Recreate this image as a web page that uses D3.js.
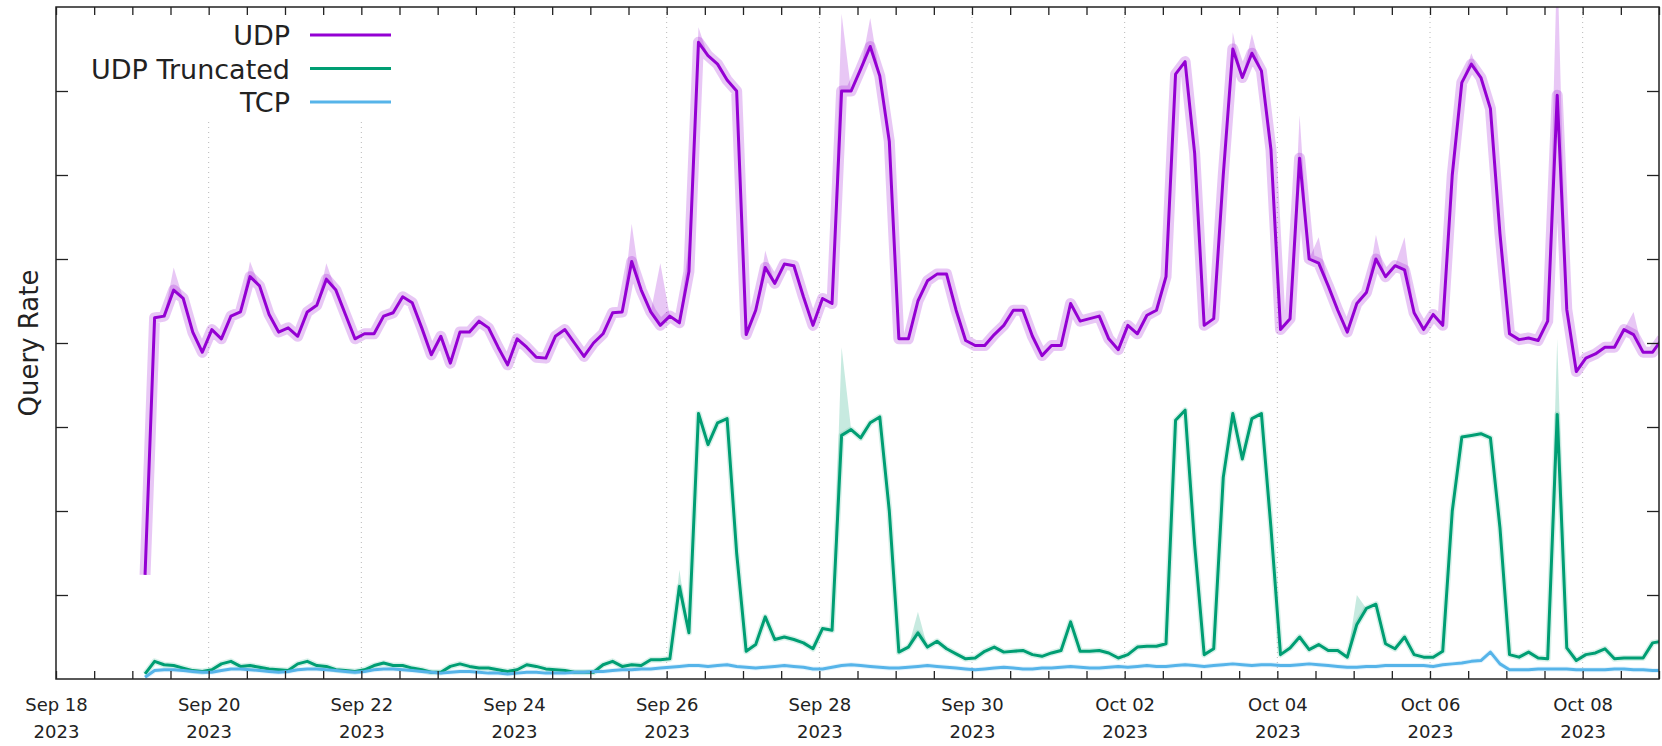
<!DOCTYPE html>
<html>
<head>
<meta charset="utf-8">
<script src="https://cdn.jsdelivr.net/npm/d3@7"></script>
<style>
  body { margin: 0; background: #fff; }
  text { font-family: "DejaVu Sans", sans-serif; fill: #222; }
</style>
</head>
<body>
<svg id="chart" width="1662" height="746"></svg>
<script>
// samples every 3 hours, starting Sep 19 04:00
const startTime = new Date(2023, 8, 19, 4);
const stepHours = 3;

const udp = [
  1.24, 4.30, 4.32, 4.63, 4.53, 4.13, 3.89, 4.16, 4.05, 4.32, 4.37, 4.79, 4.68, 4.34, 4.13, 4.18,
  4.08, 4.37, 4.45, 4.76, 4.63, 4.34, 4.05, 4.11, 4.11, 4.32, 4.36, 4.55, 4.48, 4.18, 3.86, 4.08,
  3.76, 4.13, 4.13, 4.26, 4.18, 3.95, 3.74, 4.05, 3.95, 3.83, 3.82, 4.08, 4.16, 4.00, 3.84, 4.00,
  4.11, 4.36, 4.37, 4.97, 4.63, 4.37, 4.21, 4.32, 4.24, 4.85, 7.58, 7.42, 7.32, 7.13, 7.00, 4.10,
  4.39, 4.90, 4.71, 4.94, 4.92, 4.55, 4.21, 4.53, 4.47, 7.00, 7.00, 7.26, 7.53, 7.18, 6.40, 4.05,
  4.05, 4.50, 4.74, 4.82, 4.82, 4.39, 4.03, 3.97, 3.97, 4.10, 4.21, 4.39, 4.39, 4.08, 3.85, 3.97,
  3.97, 4.47, 4.26, 4.29, 4.32, 4.05, 3.92, 4.21, 4.11, 4.33, 4.39, 4.79, 7.20, 7.35, 6.26, 4.21,
  4.29, 6.00, 7.50, 7.16, 7.45, 7.24, 6.30, 4.16, 4.29, 6.20, 5.00, 4.95, 4.68, 4.39, 4.13, 4.47,
  4.60, 5.00, 4.79, 4.92, 4.87, 4.36, 4.16, 4.34, 4.21, 6.00, 7.10, 7.32, 7.16, 6.79, 5.30, 4.11,
  4.04, 4.06, 4.03, 4.26, 6.95, 4.40, 3.66, 3.82, 3.87, 3.95, 3.95, 4.16, 4.10, 3.89, 3.89, 4.05
];

const udpTruncated = [
  0.06, 0.21, 0.17, 0.16, 0.13, 0.10, 0.09, 0.11, 0.18, 0.21, 0.15, 0.16, 0.14, 0.12, 0.11, 0.10,
  0.18, 0.21, 0.16, 0.15, 0.11, 0.10, 0.09, 0.11, 0.16, 0.19, 0.16, 0.16, 0.13, 0.11, 0.08, 0.08,
  0.15, 0.18, 0.15, 0.13, 0.13, 0.11, 0.09, 0.11, 0.17, 0.15, 0.12, 0.11, 0.10, 0.08, 0.08, 0.08,
  0.17, 0.21, 0.15, 0.17, 0.16, 0.23, 0.23, 0.24, 1.10, 0.55, 3.16, 2.79, 3.05, 3.10, 1.50, 0.33,
  0.41, 0.74, 0.47, 0.50, 0.47, 0.43, 0.36, 0.60, 0.58, 2.90, 2.97, 2.87, 3.05, 3.12, 2.00, 0.32,
  0.38, 0.55, 0.38, 0.45, 0.36, 0.30, 0.24, 0.25, 0.33, 0.38, 0.32, 0.33, 0.34, 0.29, 0.27, 0.31,
  0.34, 0.68, 0.33, 0.33, 0.34, 0.31, 0.25, 0.29, 0.38, 0.39, 0.39, 0.42, 3.08, 3.20, 1.60, 0.29,
  0.36, 2.40, 3.16, 2.62, 3.10, 3.16, 1.80, 0.29, 0.37, 0.50, 0.35, 0.41, 0.34, 0.34, 0.26, 0.65,
  0.84, 0.89, 0.42, 0.36, 0.50, 0.29, 0.26, 0.26, 0.33, 2.00, 2.88, 2.90, 2.92, 2.87, 1.80, 0.29,
  0.26, 0.32, 0.25, 0.24, 3.15, 0.37, 0.22, 0.29, 0.31, 0.36, 0.24, 0.25, 0.25, 0.25, 0.43, 0.45
];

const tcp = [
  0.02, 0.10, 0.11, 0.11, 0.10, 0.09, 0.08, 0.08, 0.10, 0.12, 0.12, 0.11, 0.10, 0.09, 0.08, 0.09,
  0.11, 0.12, 0.12, 0.11, 0.10, 0.09, 0.08, 0.09, 0.11, 0.12, 0.12, 0.11, 0.10, 0.09, 0.08, 0.07,
  0.08, 0.09, 0.09, 0.08, 0.07, 0.07, 0.06, 0.07, 0.08, 0.08, 0.07, 0.07, 0.07, 0.08, 0.08, 0.09,
  0.09, 0.10, 0.11, 0.11, 0.12, 0.12, 0.13, 0.14, 0.15, 0.16, 0.16, 0.15, 0.16, 0.17, 0.15, 0.14,
  0.13, 0.14, 0.15, 0.16, 0.15, 0.14, 0.12, 0.12, 0.14, 0.16, 0.17, 0.16, 0.15, 0.14, 0.13, 0.13,
  0.14, 0.15, 0.16, 0.15, 0.14, 0.13, 0.12, 0.11, 0.12, 0.13, 0.14, 0.13, 0.12, 0.12, 0.13, 0.13,
  0.14, 0.15, 0.14, 0.13, 0.13, 0.14, 0.15, 0.14, 0.15, 0.16, 0.15, 0.15, 0.16, 0.17, 0.16, 0.15,
  0.16, 0.17, 0.18, 0.17, 0.16, 0.17, 0.17, 0.16, 0.16, 0.17, 0.18, 0.17, 0.16, 0.15, 0.14, 0.14,
  0.15, 0.15, 0.16, 0.16, 0.16, 0.16, 0.16, 0.15, 0.17, 0.18, 0.19, 0.21, 0.22, 0.32, 0.18, 0.11,
  0.11, 0.11, 0.12, 0.12, 0.12, 0.12, 0.11, 0.11, 0.11, 0.11, 0.12, 0.12, 0.11, 0.11, 0.10, 0.10
];

// [sample index, top of spread band]
const udpBandPeaks = [[3, 4.9], [11, 4.97], [19, 4.95], [51, 5.42], [54, 4.95], [57, 5.2], [58, 7.76],
  [65, 5.1], [73, 7.92], [76, 7.87], [114, 7.7], [116, 7.68], [121, 6.71], [123, 5.26], [129, 5.29],
  [132, 5.26], [139, 7.45], [148, 8.6], [156, 4.37]];
const truncBandPeaks = [[56, 1.3], [73, 3.95], [81, 0.8], [127, 1.0], [148, 4.05]];

const dateLabels = ["Sep 18", "Sep 20", "Sep 22", "Sep 24", "Sep 26", "Sep 28", "Sep 30",
  "Oct 02", "Oct 04", "Oct 06", "Oct 08"];
const yearLabel = "2023";
const yTicks = [1, 2, 3, 4, 5, 6, 7];

const seriesNames = ["UDP", "UDP Truncated", "TCP"];
const colors = ["#9400d3", "#009e73", "#56b4e9"];

const svg = d3.select("#chart");
const plotLeft = 56, plotRight = 1659, plotTop = 7, plotBottom = 679;

const x = d3.scaleTime()
  .domain([new Date(2023, 8, 18), new Date(2023, 9, 9)])
  .range([plotLeft, plotRight]);
const y = d3.scaleLinear().domain([0, 8]).range([plotBottom, plotTop]);

const times = udp.map((d, i) => d3.timeHour.offset(startTime, i * stepHours));
const parseDay = d3.timeParse("%b %d %Y");
const labelDates = dateLabels.map(s => parseDay(s + " " + yearLabel));

svg.append("defs").append("clipPath").attr("id", "plotclip")
  .append("rect")
  .attr("x", plotLeft).attr("y", plotTop)
  .attr("width", plotRight - plotLeft).attr("height", plotBottom - plotTop);

// dotted grid at labelled dates
svg.append("g")
  .selectAll("line")
  .data(labelDates.slice(1))
  .enter().append("line")
  .attr("x1", d => x(d)).attr("x2", d => x(d))
  .attr("y1", plotTop).attr("y2", plotBottom)
  .attr("stroke", "#b8b8b8")
  .attr("stroke-width", 1)
  .attr("stroke-dasharray", "1,4");

const plot = svg.append("g").attr("clip-path", "url(#plotclip)");

const allSeries = [udp, udpTruncated, tcp];
const bandWidths = [11, 6, 5];
const bandOpacity = [0.22, 0.15, 0.15];
const peaks = [udpBandPeaks, truncBandPeaks, []];

// spread bands
allSeries.forEach((vals, k) => {
  const hi = vals.slice();
  peaks[k].forEach(p => { hi[p[0]] = p[1]; });
  const area = d3.area()
    .x((d, i) => x(times[i]))
    .y0((d, i) => y(vals[i]))
    .y1((d, i) => y(hi[i]));
  plot.append("path")
    .datum(vals)
    .attr("d", area)
    .attr("fill", colors[k])
    .attr("fill-opacity", 0.22);

  plot.append("path")
    .datum(vals)
    .attr("d", d3.line().x((d, i) => x(times[i])).y(d => y(d)))
    .attr("fill", "none")
    .attr("stroke", colors[k])
    .attr("stroke-opacity", bandOpacity[k])
    .attr("stroke-width", bandWidths[k])
    .attr("stroke-linejoin", "round");
});

// lines
allSeries.forEach((vals, k) => {
  plot.append("path")
    .datum(vals)
    .attr("d", d3.line().x((d, i) => x(times[i])).y(d => y(d)))
    .attr("fill", "none")
    .attr("stroke", colors[k])
    .attr("stroke-width", 3)
    .attr("stroke-linejoin", "round");
});

// legend box (opaque)
svg.append("rect")
  .attr("x", 70).attr("y", plotTop + 1)
  .attr("width", 330).attr("height", 111)
  .attr("fill", "#fff");

const legend = svg.append("g");
seriesNames.forEach((name, k) => {
  const cy = 35 + k * 33.5;
  legend.append("text")
    .attr("x", 290).attr("y", cy + 10)
    .attr("text-anchor", "end")
    .style("font-size", "27px")
    .text(name);
  legend.append("line")
    .attr("x1", 310).attr("x2", 391)
    .attr("y1", cy).attr("y2", cy)
    .attr("stroke", colors[k])
    .attr("stroke-width", 3);
});

// x ticks every 12 hours, bottom and top, pointing inward
const halfDays = d3.timeHour.every(12).range(x.domain()[0], d3.timeHour.offset(x.domain()[1], 1));
const bottomAxis = svg.append("g")
  .attr("transform", `translate(0,${plotBottom})`)
  .call(d3.axisBottom(x).tickValues(halfDays).tickSizeInner(-8).tickSizeOuter(0).tickFormat(""));
const topAxis = svg.append("g")
  .attr("transform", `translate(0,${plotTop})`)
  .call(d3.axisTop(x).tickValues(halfDays).tickSizeInner(-8).tickSizeOuter(0).tickFormat(""));

// y ticks, no labels
const leftAxis = svg.append("g")
  .attr("transform", `translate(${plotLeft},0)`)
  .call(d3.axisLeft(y).tickValues(yTicks).tickSizeInner(-12).tickSizeOuter(0).tickFormat(""));
const rightAxis = svg.append("g")
  .attr("transform", `translate(${plotRight},0)`)
  .call(d3.axisRight(y).tickValues(yTicks).tickSizeInner(-12).tickSizeOuter(0).tickFormat(""));

[bottomAxis, topAxis, leftAxis, rightAxis].forEach(a => {
  a.select(".domain").remove();
  a.selectAll(".tick line").attr("stroke", "#222").attr("stroke-width", 1.3);
});

// two-line date labels
const labels = svg.append("g")
  .attr("transform", `translate(0,${plotBottom})`)
  .call(d3.axisBottom(x).tickValues(labelDates).tickSize(0).tickFormat(""));
labels.select(".domain").remove();
labels.selectAll(".tick").each(function(d, i) {
  const t = d3.select(this).append("text")
    .attr("text-anchor", "middle")
    .style("font-size", "18px");
  t.append("tspan").attr("x", 0).attr("y", 32).text(dateLabels[i]);
  t.append("tspan").attr("x", 0).attr("y", 59).text(yearLabel);
});

// frame
svg.append("rect")
  .attr("x", plotLeft).attr("y", plotTop)
  .attr("width", plotRight - plotLeft).attr("height", plotBottom - plotTop)
  .attr("fill", "none")
  .attr("stroke", "#222")
  .attr("stroke-width", 1.5);

svg.append("text")
  .attr("transform", `translate(29,${(plotTop + plotBottom) / 2})rotate(-90)`)
  .attr("text-anchor", "middle")
  .attr("dominant-baseline", "central")
  .style("font-size", "26px")
  .text("Query Rate");
</script>
</body>
</html>
